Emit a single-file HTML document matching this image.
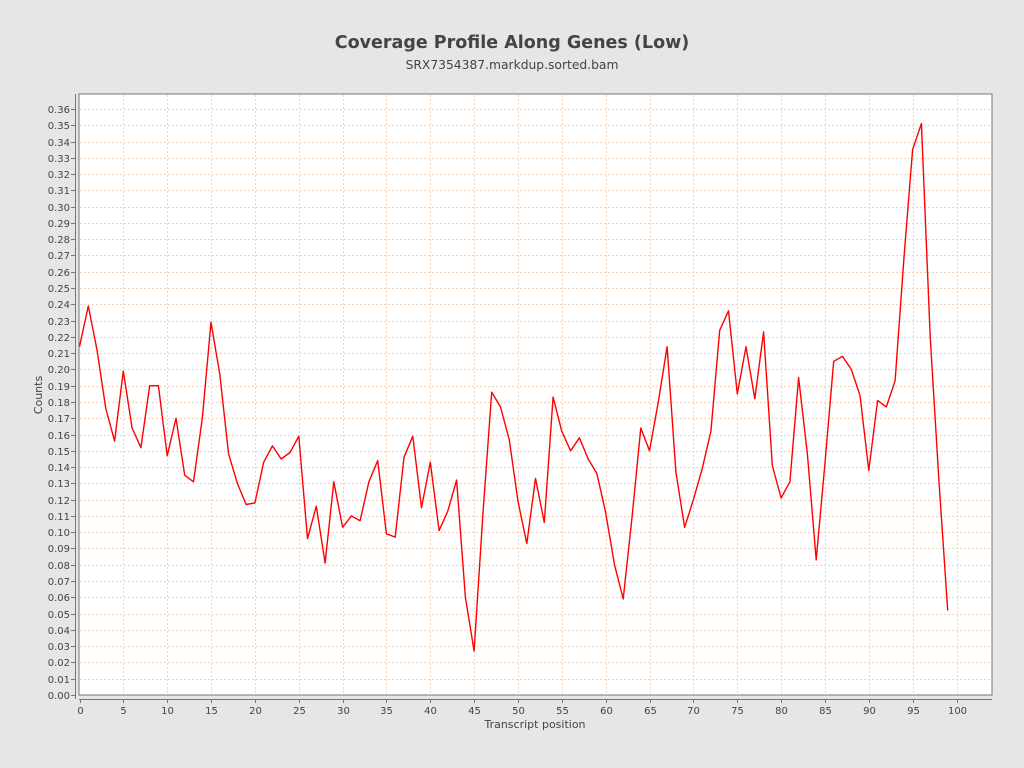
<!DOCTYPE html>
<html><head><meta charset="utf-8"><style>
html,body{margin:0;padding:0;background:#e6e6e6;}
svg{display:block;font-family:"DejaVu Sans","Liberation Sans",sans-serif;}
</style></head><body>
<svg id="s" width="1024" height="768" xmlns="http://www.w3.org/2000/svg">
<rect width="1024" height="768" fill="#e6e6e6"/>
<text x="512" y="48" text-anchor="middle" font-size="17.5" font-weight="bold" fill="#444">Coverage Profile Along Genes (Low)</text>
<text x="512" y="69" text-anchor="middle" font-size="12.3" fill="#444">SRX7354387.markdup.sorted.bam</text>
<rect x="79" y="94" width="913" height="601" fill="#fff" stroke="#777" stroke-width="1"/>
<g id="grid"></g>
<g id="ylab" font-size="10" fill="#444" text-anchor="end">
<text>0.00</text><text>0.01</text><text>0.02</text><text>0.03</text><text>0.04</text><text>0.05</text><text>0.06</text><text>0.07</text><text>0.08</text><text>0.09</text><text>0.10</text><text>0.11</text><text>0.12</text><text>0.13</text><text>0.14</text><text>0.15</text><text>0.16</text><text>0.17</text><text>0.18</text><text>0.19</text><text>0.20</text><text>0.21</text><text>0.22</text><text>0.23</text><text>0.24</text><text>0.25</text><text>0.26</text><text>0.27</text><text>0.28</text><text>0.29</text><text>0.30</text><text>0.31</text><text>0.32</text><text>0.33</text><text>0.34</text><text>0.35</text><text>0.36</text>
</g>
<g id="xlab" font-size="10" fill="#444" text-anchor="middle">
<text>0</text><text>5</text><text>10</text><text>15</text><text>20</text><text>25</text><text>30</text><text>35</text><text>40</text><text>45</text><text>50</text><text>55</text><text>60</text><text>65</text><text>70</text><text>75</text><text>80</text><text>85</text><text>90</text><text>95</text><text>100</text>
</g>
<text x="535" y="728" text-anchor="middle" font-size="11" fill="#444">Transcript position</text>
<text transform="translate(42,395) rotate(-90)" text-anchor="middle" font-size="11" fill="#444">Counts</text>
</svg>
<script>
var NS="http://www.w3.org/2000/svg",g=document.getElementById("grid"),s=document.getElementById("s");
function Y(v){return 695-v*1627.8;}function X(i){return 79.5+i*8.77;}
function el(n,a,p){var e=document.createElementNS(NS,n);for(var k in a)e.setAttribute(k,a[k]);(p||g).appendChild(e);return e;}
var yl=document.getElementById("ylab").children;
for(var k=0;k<=36;k++){var y=Math.round(Y(k/100))+0.5;
 if(k>0)el("line",{x1:80,x2:992,y1:y,y2:y,stroke:"#f4d2b8","stroke-dasharray":"2,2","stroke-width":1});
 el("line",{x1:71,x2:75,y1:y,y2:y,stroke:"#777"});
 yl[k].setAttribute("x",70);yl[k].setAttribute("y",y+3.5);}
var xl=document.getElementById("xlab").children;
for(var k=0;k<=20;k++){var x=Math.round(X(k*5))+0.5;
 if(k>0)el("line",{x1:x,x2:x,y1:95,y2:695,stroke:"#f4d2b8","stroke-dasharray":"2,2","stroke-width":1});
 el("line",{x1:x,x2:x,y1:699,y2:703,stroke:"#777"});
 xl[k].setAttribute("x",x);xl[k].setAttribute("y",714);}
el("line",{x1:75.5,x2:75.5,y1:94,y2:699,stroke:"#777"});
el("line",{x1:79,x2:992,y1:699.5,y2:699.5,stroke:"#777"});
var d=[0.214,0.239,0.212,0.176,0.156,0.199,0.164,0.152,0.190,0.190,0.147,0.170,0.135,0.131,0.170,0.229,0.197,0.148,0.130,0.117,0.118,0.143,0.153,0.145,0.149,0.159,0.096,0.116,0.081,0.131,0.103,0.110,0.107,0.131,0.144,0.099,0.097,0.146,0.159,0.115,0.143,0.101,0.113,0.132,0.060,0.027,0.111,0.186,0.177,0.157,0.119,0.093,0.133,0.106,0.183,0.162,0.150,0.158,0.145,0.136,0.112,0.080,0.059,0.109,0.164,0.150,0.180,0.214,0.137,0.103,0.120,0.139,0.162,0.224,0.236,0.185,0.214,0.182,0.223,0.141,0.121,0.131,0.195,0.148,0.083,0.142,0.205,0.208,0.200,0.184,0.138,0.181,0.177,0.193,0.268,0.335,0.351,0.220,0.131,0.052];
el("polyline",{points:d.map(function(v,i){return X(i).toFixed(1)+","+Y(v).toFixed(1)}).join(" "),fill:"none",stroke:"#ff0000","stroke-width":1.4,"stroke-linejoin":"round"});
</script>
</body></html>
